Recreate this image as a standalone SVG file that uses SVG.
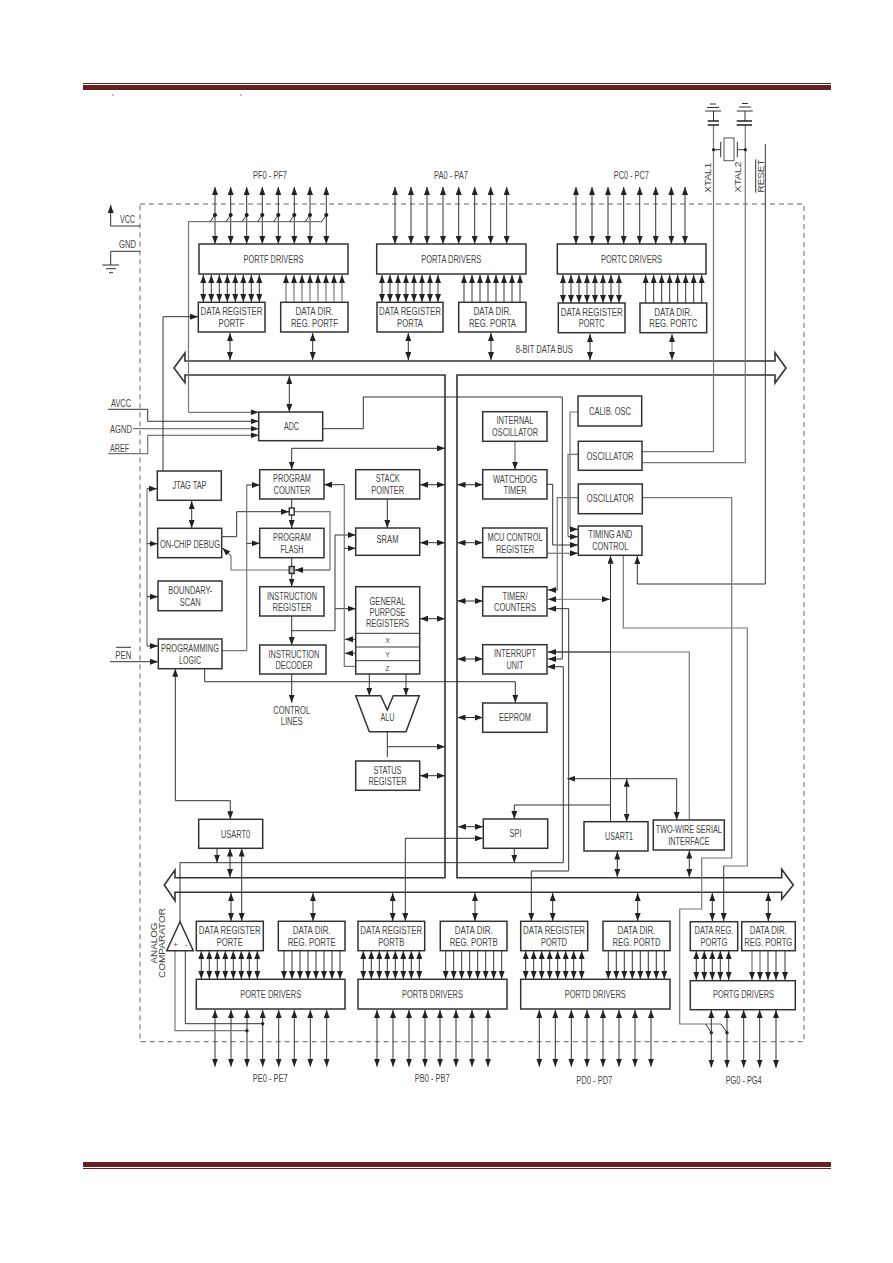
<svg xmlns="http://www.w3.org/2000/svg" width="893" height="1263" viewBox="0 0 893 1263">
<style>
text{font-family:"Liberation Sans",Arial,sans-serif;font-size:10px;fill:#444;text-anchor:middle}
.rot{font-size:8.5px}
.box{fill:#fff;stroke:#333;stroke-width:1.5}
.c{fill:none;stroke:#333;stroke-width:1}
.g{fill:none;stroke:#777;stroke-width:1.2}
.a{fill:none;stroke:#333;stroke-width:1;marker-end:url(#ah)}
.ag{fill:none;stroke:#777;stroke-width:1.2;marker-end:url(#ah)}
.b{fill:none;stroke:#333;stroke-width:1;marker-start:url(#ah);marker-end:url(#ah)}
.bg{fill:none;stroke:#777;stroke-width:1;marker-start:url(#ah);marker-end:url(#ah)}
.rule{fill:#66211f;stroke:none}
.dot{fill:#222;stroke:none}
</style>
<defs>
<marker id="ah" markerUnits="userSpaceOnUse" markerWidth="8" markerHeight="6" refX="8" refY="3" orient="auto-start-reverse"><path d="M0,0 L8,3 L0,6 z" fill="#222"/></marker>
</defs>
<rect width="893" height="1263" fill="#fff"/>
<g id="page-rules">
<rect class="rule" x="83" y="83" width="748" height="1"/>
<rect class="rule" x="83" y="85" width="748" height="5"/>
<rect class="rule" x="83" y="1162" width="748" height="5"/>
<rect class="rule" x="83" y="1168" width="748" height="1"/>
<path d="M112 95H114M240 95H242" stroke="#888" fill="none"/>
</g>
<path id="chip-border" d="M140 204H804V1041.7H140Z" fill="none" stroke="#666" stroke-width="1" stroke-dasharray="5 4"/>
<path id="data-bus" d="M185 361H775V352.7L786 368L775 383V375H457V877.7H781.7V869.3L793.3 885L781.7 899.3V892.3H175V900.7L164.3 885L175 870V877.7H445V375H185V382.7L174 368L185 353Z" fill="none" stroke="#333" stroke-width="1.6"/>
<g id="connectors">
<path class="b" d="M215 187V244"/><path class="b" d="M230.7 187V244"/><path class="b" d="M246.7 187V244"/><path class="b" d="M262.3 187V244"/><path class="b" d="M278.3 187V244"/><path class="b" d="M294.3 187V244"/><path class="b" d="M310 187V244"/><path class="b" d="M326.3 187V244"/>
<path class="b" d="M395 187V244"/><path class="b" d="M411 187V244"/><path class="b" d="M427 187V244"/><path class="b" d="M443 187V244"/><path class="b" d="M458.7 187V244"/><path class="b" d="M474.7 187V244"/><path class="b" d="M490.7 187V244"/><path class="b" d="M506.7 187V244"/>
<path class="b" d="M576 187V244"/><path class="b" d="M592 187V244"/><path class="b" d="M608 187V244"/><path class="b" d="M623.7 187V244"/><path class="b" d="M639.7 187V244"/><path class="b" d="M655.7 187V244"/><path class="b" d="M671.3 187V244"/><path class="b" d="M685 187V244"/>
<path class="g" d="M188.5 412V221.7H321.7"/>
<path class="c" d="M210 222L215 215M225.7 222L230.7 215M241.7 222L246.7 215M257.3 222L262.3 215M273.3 222L278.3 215M289.3 222L294.3 215M305 222L310 215M321.3 222L326.3 215"/>
<path class="dot" d="M215 213a2 2 0 1 0 .01 0zM230.7 213a2 2 0 1 0 .01 0zM246.7 213a2 2 0 1 0 .01 0zM262.3 213a2 2 0 1 0 .01 0zM278.3 213a2 2 0 1 0 .01 0zM294.3 213a2 2 0 1 0 .01 0zM310 213a2 2 0 1 0 .01 0zM326.3 213a2 2 0 1 0 .01 0z"/>
<path class="b" d="M203.3 275V302"/><path class="b" d="M211.3 275V302"/><path class="b" d="M219.3 275V302"/><path class="b" d="M227.3 275V302"/><path class="b" d="M235.3 275V302"/><path class="b" d="M243.3 275V302"/><path class="b" d="M251.3 275V302"/><path class="b" d="M259.3 275V302"/>
<path class="ag" d="M286 302V275"/><path class="ag" d="M294 302V275"/><path class="ag" d="M302 302V275"/><path class="ag" d="M310 302V275"/><path class="ag" d="M318 302V275"/><path class="ag" d="M326 302V275"/><path class="ag" d="M334 302V275"/><path class="ag" d="M342 302V275"/>
<path class="b" d="M382 275V302"/><path class="b" d="M390 275V302"/><path class="b" d="M398 275V302"/><path class="b" d="M406 275V302"/><path class="b" d="M414 275V302"/><path class="b" d="M422 275V302"/><path class="b" d="M430 275V302"/><path class="b" d="M438 275V302"/>
<path class="a" d="M464 302V275"/><path class="a" d="M472 302V275"/><path class="a" d="M480 302V275"/><path class="a" d="M488 302V275"/><path class="a" d="M496 302V275"/><path class="a" d="M504 302V275"/><path class="a" d="M512 302V275"/><path class="a" d="M520 302V275"/>
<path class="b" d="M563 275V303"/><path class="b" d="M571 275V303"/><path class="b" d="M579 275V303"/><path class="b" d="M587 275V303"/><path class="b" d="M595 275V303"/><path class="b" d="M603 275V303"/><path class="b" d="M611 275V303"/><path class="b" d="M619 275V303"/>
<path class="a" d="M645.7 303V275"/><path class="a" d="M653.7 303V275"/><path class="a" d="M661.7 303V275"/><path class="a" d="M669.7 303V275"/><path class="a" d="M677.7 303V275"/><path class="a" d="M685.7 303V275"/><path class="a" d="M693.7 303V275"/><path class="a" d="M701.7 303V275"/>
<path class="b" d="M230 333V360"/><path class="b" d="M312.7 333V360"/><path class="b" d="M408.3 333V360"/><path class="b" d="M491 333V360"/><path class="b" d="M590 334V360"/><path class="bg" d="M672 334V360"/>
<path class="b" d="M289.3 376V412"/>
<path class="a" d="M140 226H110.7V205"/>
<path class="c" d="M140 251.3H110.7V265M102.3 265H119M106 268.7H116M109 272.7H113"/>
<path class="g" d="M713.5 125V451.7H642"/>
<path class="g" d="M745.3 125V462.7H642"/>
<path class="c" d="M705 111H721M707 107.5H719M710 104H716M713.5 111V121M736.7 111H752.7M739 107H751M742 103.5H748M745 111V121"/>
<path d="M707.7 121H719M707.7 125H719M736.7 121H752M736.7 125H752" fill="none" stroke="#222" stroke-width="1.6"/>
<path class="c" d="M713.5 149.7H720.7M720.7 141.7V157.3M737.3 141.7V157.3M737.3 149.7H745.3"/>
<rect x="724" y="138" width="10" height="22.7" fill="#fff" stroke="#555"/>
<circle class="dot" cx="713.5" cy="149.7" r="1.6"/><circle class="dot" cx="745.3" cy="149.7" r="1.6"/>
<path class="a" d="M765.3 144V584H637.3V556"/>
<path class="a" d="M108 409.3H147.7V421.3H258.5"/>
<path class="ag" d="M133 428.7H258.5"/>
<path class="ag" d="M108 453.7H147.7V435.3H258.5"/>
<path class="ag" d="M188.5 412.3H258.5"/>
<path class="a" d="M322.7 428.7H363.3V397H562.3V659H548"/>
<path class="b" d="M445 448.3H291.7V469.5"/>
<path class="a" d="M163 471V316.7H198"/>
<path class="g" d="M147 488.7V646"/>
<path class="a" d="M147 488.7H157"/><path class="a" d="M147 543.7H157.5"/><path class="a" d="M147 596.7H158"/><path class="a" d="M147 646H158"/>
<path class="a" d="M110 661.7H158"/>
<path class="b" d="M191.7 501V528"/>
<path class="c" d="M291.7 499V508"/>
<path class="a" d="M291.7 515V528"/>
<path class="c" d="M291.7 558V566"/>
<path class="a" d="M291.7 574V586.5"/>
<path class="a" d="M221.7 536.7H236.7V511.7H289"/>
<path class="g" d="M294.5 511.7H330V570"/>
<path class="a" d="M330 570H295"/>
<path class="ag" d="M289 570H231V556L222.5 548"/>
<path class="g" d="M222 650.7H246.7V485"/>
<path class="a" d="M246.7 485H259.7"/>
<path class="a" d="M246.7 543.3H259.7"/>
<path class="a" d="M291.7 616V645"/>
<path class="c" d="M291.7 630.7H335V535"/>
<path class="a" d="M335 535H355.7"/>
<path class="a" d="M335 608.7H355.7"/>
<path class="g" d="M355.7 666.3H344.3V484.7"/>
<path class="a" d="M344.3 484.7H324"/>
<path class="a" d="M344.3 548.3H355.7"/>
<path class="a" d="M355.7 639.3H345"/>
<path class="a" d="M355.7 653.3H345"/>
<path class="a" d="M387.3 499V528"/>
<path class="b" d="M420 484.7H445"/><path class="b" d="M420 542.7H445"/><path class="b" d="M420 618.7H445"/>
<path class="a" d="M291.7 674V702.7"/>
<path class="a" d="M369.3 674V695.7"/><path class="a" d="M406 674V695.7"/>
<path class="a" d="M204.7 668.7V681.7H515.3V702.7"/>
<path class="b" d="M175.3 668.7V800.7H230.3V819.3"/>
<path class="c" d="M387.3 731.7V757"/>
<path class="a" d="M387.3 746.7H445"/>
<path class="b" d="M420 775.7H445"/>
<path class="b" d="M457.5 484.7H482.7"/><path class="b" d="M457.5 542.7H482.7"/><path class="b" d="M457.5 601H482.7"/><path class="b" d="M457.5 659H482.7"/><path class="b" d="M457.5 717.5H482.7"/><path class="b" d="M458 826.7H483"/>
<path class="ag" d="M515 441.3V469.7"/>
<path class="g" d="M578 412H570V529.3"/>
<path class="a" d="M570 529.3H578"/>
<path class="g" d="M578 454.3H568V536.7"/>
<path class="a" d="M568 536.7H578"/>
<path class="a" d="M547 484.3H552.7V545H578"/>
<path class="ag" d="M547 553.3H578"/>
<path class="g" d="M578 497.7H557.3V590"/>
<path class="a" d="M557.3 590H548"/>
<path class="g" d="M642 497.7H731.7V858H701.7V909H679.7V1024H721"/>
<path class="c" d="M705.7 1024L711.3 1032.7M721 1024L727 1032.7"/>
<circle class="dot" cx="711.3" cy="1032.7" r="1.7"/><circle class="dot" cx="727" cy="1032.7" r="1.7"/>
<path class="bg" d="M548 599.3H610"/>
<path class="b" d="M531.3 921V871H568.7V608.7H548"/>
<path class="g" d="M689.3 820V652H548"/>
<path class="a" d="M610.7 652H548"/>
<path class="a" d="M180 921.7V862.7H563.3V666.7H547"/>
<path class="a" d="M610.5 821.7V555.7"/>
<path class="a" d="M610.5 805H514.3V819"/>
<path class="b" d="M626.7 821.7V778.7"/>
<path class="a" d="M676.7 778.7H567.3"/>
<path class="a" d="M676.7 778.7V820"/>
<path class="g" d="M623.3 555.3V628H747.3V866H723.7"/>
<path class="a" d="M723.7 866V921"/>
<path class="a" d="M217 848.5V862.7"/>
<path class="b" d="M230 848.5V877"/>
<path class="b" d="M241.7 848.5V921"/>
<path class="a" d="M514.3 848.5V862.7"/>
<path class="b" d="M405.3 921V838.3H483"/>
<path class="b" d="M617.3 851.5V877"/>
<path class="b" d="M689.3 850.5V877"/>
<path class="b" d="M231 893V921"/><path class="b" d="M313 893V921"/><path class="b" d="M392.7 893V921"/><path class="b" d="M475 893V921"/><path class="b" d="M552.7 893V921"/><path class="b" d="M637.7 893V921"/><path class="b" d="M712.3 893V921"/><path class="b" d="M768.3 893V921"/>
<path class="b" d="M201.3 951V979"/><path class="b" d="M209.3 951V979"/><path class="b" d="M217.3 951V979"/><path class="b" d="M225.3 951V979"/><path class="b" d="M233.3 951V979"/><path class="b" d="M241.3 951V979"/><path class="b" d="M249.3 951V979"/><path class="b" d="M257.3 951V979"/>
<path class="a" d="M284 951V979"/><path class="a" d="M292 951V979"/><path class="a" d="M300 951V979"/><path class="a" d="M308 951V979"/><path class="a" d="M316 951V979"/><path class="a" d="M324 951V979"/><path class="a" d="M332 951V979"/><path class="a" d="M340 951V979"/>
<path class="b" d="M363.3 951V979"/><path class="b" d="M371.3 951V979"/><path class="b" d="M379.3 951V979"/><path class="b" d="M387.3 951V979"/><path class="b" d="M395.3 951V979"/><path class="b" d="M403.3 951V979"/><path class="b" d="M411.3 951V979"/><path class="b" d="M419.3 951V979"/>
<path class="a" d="M445.7 951V979"/><path class="a" d="M453.7 951V979"/><path class="a" d="M461.7 951V979"/><path class="a" d="M469.7 951V979"/><path class="a" d="M477.7 951V979"/><path class="a" d="M485.7 951V979"/><path class="a" d="M493.7 951V979"/><path class="a" d="M501.7 951V979"/>
<path class="b" d="M525.7 951V979"/><path class="b" d="M533.7 951V979"/><path class="b" d="M541.7 951V979"/><path class="b" d="M549.7 951V979"/><path class="b" d="M557.7 951V979"/><path class="b" d="M565.7 951V979"/><path class="b" d="M573.7 951V979"/><path class="b" d="M581.7 951V979"/>
<path class="a" d="M608.3 951V979"/><path class="a" d="M616.3 951V979"/><path class="a" d="M624.3 951V979"/><path class="a" d="M632.3 951V979"/><path class="a" d="M640.3 951V979"/><path class="a" d="M648.3 951V979"/><path class="a" d="M656.3 951V979"/><path class="a" d="M664.3 951V979"/>
<path class="b" d="M696.3 951V980"/><path class="b" d="M704.3 951V980"/><path class="b" d="M712.3 951V980"/><path class="b" d="M720.3 951V980"/><path class="b" d="M728.7 951V980"/>
<path class="ag" d="M752 951V980"/><path class="ag" d="M760 951V980"/><path class="a" d="M768 951V980"/><path class="a" d="M776 951V980"/><path class="a" d="M785 951V980"/>
<path class="b" d="M215 1010V1066.7"/><path class="b" d="M231 1010V1066.7"/><path class="b" d="M247 1010V1066.7"/><path class="b" d="M262.7 1010V1066.7"/><path class="b" d="M278.7 1010V1066.7"/><path class="b" d="M294.3 1010V1066.7"/><path class="b" d="M310.3 1010V1066.7"/><path class="b" d="M326.7 1010V1066.7"/>
<path class="b" d="M377 1010V1066.7"/><path class="b" d="M393 1010V1066.7"/><path class="b" d="M409 1010V1066.7"/><path class="b" d="M425 1010V1066.7"/><path class="b" d="M440 1010V1066.7"/><path class="b" d="M456 1010V1066.7"/><path class="b" d="M472 1010V1066.7"/><path class="b" d="M488 1010V1066.7"/>
<path class="b" d="M539.3 1010V1066.7"/><path class="b" d="M555.3 1010V1066.7"/><path class="b" d="M571.3 1010V1066.7"/><path class="b" d="M587 1010V1066.7"/><path class="b" d="M603 1010V1066.7"/><path class="b" d="M619 1010V1066.7"/><path class="b" d="M635 1010V1066.7"/><path class="b" d="M651 1010V1066.7"/>
<path class="b" d="M711.3 1010V1067.5"/><path class="b" d="M727 1010V1067.5"/><path class="b" d="M743.7 1010V1067.5"/><path class="b" d="M759.7 1010V1067.5"/><path class="b" d="M776 1010V1068"/>
<path class="c" d="M185.3 951V1023.7H262.7"/>
<path class="g" d="M175 951V1030.7H247"/>
<circle class="dot" cx="262.7" cy="1023.7" r="1.7"/><circle class="dot" cx="247" cy="1030.7" r="1.7"/>
</g>
<g id="labels">
<text x="270" y="178.8" textLength="34" lengthAdjust="spacingAndGlyphs">PF0 - PF7</text>
<text x="451" y="178.8" textLength="34" lengthAdjust="spacingAndGlyphs">PA0 - PA7</text>
<text x="631.3" y="178.8" textLength="35" lengthAdjust="spacingAndGlyphs">PC0 - PC7</text>
<text x="270.3" y="1081.5" textLength="35" lengthAdjust="spacingAndGlyphs">PE0 - PE7</text>
<text x="432.3" y="1081.5" textLength="35" lengthAdjust="spacingAndGlyphs">PB0 - PB7</text>
<text x="594.3" y="1083.5" textLength="36" lengthAdjust="spacingAndGlyphs">PD0 - PD7</text>
<text x="743.7" y="1083.5" textLength="36" lengthAdjust="spacingAndGlyphs">PG0 - PG4</text>
<text x="127.5" y="222.5" textLength="15" lengthAdjust="spacingAndGlyphs">VCC</text>
<text x="127.5" y="247.5" textLength="17" lengthAdjust="spacingAndGlyphs">GND</text>
<text x="121" y="406.5" textLength="20" lengthAdjust="spacingAndGlyphs">AVCC</text>
<text x="121" y="432.5" textLength="22" lengthAdjust="spacingAndGlyphs">AGND</text>
<text x="119.5" y="451.5" textLength="19" lengthAdjust="spacingAndGlyphs">AREF</text>
<text x="123.3" y="658.5" textLength="16" lengthAdjust="spacingAndGlyphs">PEN</text>
<path class="c" d="M116 647.3H131"/>
<text x="544.3" y="352.8" textLength="57" lengthAdjust="spacingAndGlyphs">8-BIT DATA BUS</text>
<text x="291.7" y="713.5" textLength="37" lengthAdjust="spacingAndGlyphs">CONTROL</text>
<text x="291.7" y="725.2" textLength="22" lengthAdjust="spacingAndGlyphs">LINES</text>
<text class="rot" transform="translate(710.7 177.7) rotate(-90)" textLength="30" lengthAdjust="spacingAndGlyphs">XTAL1</text>
<text class="rot" transform="translate(741.3 177) rotate(-90)" textLength="31" lengthAdjust="spacingAndGlyphs">XTAL2</text>
<text class="rot" transform="translate(764.3 176) rotate(-90)" textLength="33" lengthAdjust="spacingAndGlyphs">RESET</text>
<path class="c" d="M755.7 159.3V192.7"/>
<text class="rot" transform="translate(156.7 943) rotate(-90)" textLength="41" lengthAdjust="spacingAndGlyphs">ANALOG</text>
<text class="rot" transform="translate(164.5 943) rotate(-90)" textLength="70" lengthAdjust="spacingAndGlyphs">COMPARATOR</text>
</g>
<g id="portf-drivers"><rect class="box" x="199" y="244" width="149" height="30"/><text x="273.5" y="262.5" textLength="60" lengthAdjust="spacingAndGlyphs">PORTF DRIVERS</text></g>
<g id="porta-drivers"><rect class="box" x="376.7" y="244" width="149.3" height="30"/><text x="451.3" y="262.5" textLength="60" lengthAdjust="spacingAndGlyphs">PORTA DRIVERS</text></g>
<g id="portc-drivers"><rect class="box" x="557.3" y="244" width="148.7" height="30"/><text x="631.5" y="262.5" textLength="61" lengthAdjust="spacingAndGlyphs">PORTC DRIVERS</text></g>
<g id="data-register-portf"><rect class="box" x="198.3" y="302.3" width="66.7" height="29.7"/><text x="231.5" y="315" textLength="62" lengthAdjust="spacingAndGlyphs">DATA REGISTER</text><text x="231.5" y="326.5" textLength="26" lengthAdjust="spacingAndGlyphs">PORTF</text></g>
<g id="data-dir-portf"><rect class="box" x="280.7" y="302.3" width="67.3" height="29.7"/><text x="314.5" y="315" textLength="38" lengthAdjust="spacingAndGlyphs">DATA DIR.</text><text x="314.5" y="326.5" textLength="47" lengthAdjust="spacingAndGlyphs">REG. PORTF</text></g>
<g id="data-register-porta"><rect class="box" x="377" y="302.3" width="66" height="29.7"/><text x="410" y="315" textLength="62" lengthAdjust="spacingAndGlyphs">DATA REGISTER</text><text x="410" y="326.5" textLength="26" lengthAdjust="spacingAndGlyphs">PORTA</text></g>
<g id="data-dir-porta"><rect class="box" x="458.7" y="302.3" width="67.3" height="29.7"/><text x="492.5" y="315" textLength="38" lengthAdjust="spacingAndGlyphs">DATA DIR.</text><text x="492.5" y="326.5" textLength="47" lengthAdjust="spacingAndGlyphs">REG. PORTA</text></g>
<g id="data-register-portc"><rect class="box" x="558.3" y="303" width="66.7" height="29.7"/><text x="591.7" y="315.5" textLength="62" lengthAdjust="spacingAndGlyphs">DATA REGISTER</text><text x="591.7" y="327" textLength="26" lengthAdjust="spacingAndGlyphs">PORTC</text></g>
<g id="data-dir-portc"><rect class="box" x="640" y="303" width="66.7" height="29.7"/><text x="673.3" y="315.5" textLength="38" lengthAdjust="spacingAndGlyphs">DATA DIR.</text><text x="673.3" y="327" textLength="48" lengthAdjust="spacingAndGlyphs">REG. PORTC</text></g>
<g id="adc"><rect class="box" x="258.7" y="412" width="64" height="28.7"/><text x="291.5" y="429.5" textLength="15" lengthAdjust="spacingAndGlyphs">ADC</text></g>
<g id="jtag-tap"><rect class="box" x="157.3" y="471" width="64" height="29.3"/><text x="189.5" y="488.5" textLength="34" lengthAdjust="spacingAndGlyphs">JTAG TAP</text></g>
<g id="on-chip-debug"><rect class="box" x="157.7" y="528.3" width="64" height="29.4"/><text x="190" y="548" textLength="60" lengthAdjust="spacingAndGlyphs">ON-CHIP DEBUG</text></g>
<g id="boundary-scan"><rect class="box" x="158" y="581" width="64" height="29.7"/><text x="190.3" y="593.5" textLength="44" lengthAdjust="spacingAndGlyphs">BOUNDARY-</text><text x="190.3" y="605.5" textLength="21" lengthAdjust="spacingAndGlyphs">SCAN</text></g>
<g id="programming-logic"><rect class="box" x="158.3" y="639" width="63.7" height="29.7"/><text x="190" y="652" textLength="58" lengthAdjust="spacingAndGlyphs">PROGRAMMING</text><text x="190" y="663.5" textLength="22" lengthAdjust="spacingAndGlyphs">LOGIC</text></g>
<g id="program-counter"><rect class="box" x="259.7" y="469.7" width="64.3" height="29.3"/><text x="292" y="482" textLength="38" lengthAdjust="spacingAndGlyphs">PROGRAM</text><text x="292" y="493.5" textLength="37" lengthAdjust="spacingAndGlyphs">COUNTER</text></g>
<g id="program-flash"><rect class="box" x="259.7" y="528.3" width="64.3" height="29.4"/><text x="292" y="541" textLength="38" lengthAdjust="spacingAndGlyphs">PROGRAM</text><text x="292" y="552.5" textLength="23" lengthAdjust="spacingAndGlyphs">FLASH</text></g>
<g id="instruction-register"><rect class="box" x="259.7" y="586.7" width="64.3" height="29.3"/><text x="292" y="599.5" textLength="50" lengthAdjust="spacingAndGlyphs">INSTRUCTION</text><text x="292" y="610.5" textLength="39" lengthAdjust="spacingAndGlyphs">REGISTER</text></g>
<g id="instruction-decoder"><rect class="box" x="259.7" y="645" width="66.3" height="29" stroke-width="2"/><text x="294" y="657.5" textLength="51" lengthAdjust="spacingAndGlyphs">INSTRUCTION</text><text x="294" y="668.5" textLength="37" lengthAdjust="spacingAndGlyphs">DECODER</text></g>
<g id="stack-pointer"><rect class="box" x="355.7" y="469.7" width="64" height="29.3"/><text x="387.7" y="482" textLength="24" lengthAdjust="spacingAndGlyphs">STACK</text><text x="387.7" y="493.5" textLength="33" lengthAdjust="spacingAndGlyphs">POINTER</text></g>
<g id="sram"><rect class="box" x="355.7" y="528" width="64" height="27.3"/><text x="387.5" y="542.5" textLength="22" lengthAdjust="spacingAndGlyphs">SRAM</text></g>
<g id="general-purpose-registers"><rect class="box" x="355.7" y="586.7" width="64" height="87.3"/><path class="c" d="M355.7 633.3H419.7M355.7 647H419.7M355.7 660.7H419.7"/><text x="387.5" y="604.8" textLength="36" lengthAdjust="spacingAndGlyphs">GENERAL</text><text x="387.5" y="616.2" textLength="36" lengthAdjust="spacingAndGlyphs">PURPOSE</text><text x="387.5" y="626.8" textLength="43" lengthAdjust="spacingAndGlyphs">REGISTERS</text><text x="387.5" y="643" style="font-size:7px">X</text><text x="387.5" y="656.5" style="font-size:7px">Y</text><text x="387.5" y="670.5" style="font-size:7px">Z</text></g>
<g id="alu"><path class="box" d="M355.7 695.7H380.7L387.3 710L393.3 695.7H419.3L406 731.7H369.3Z"/><text x="387.5" y="721" textLength="14" lengthAdjust="spacingAndGlyphs">ALU</text></g>
<g id="status-register"><rect class="box" x="355.7" y="761" width="64" height="29.3"/><text x="387.5" y="773.5" textLength="28" lengthAdjust="spacingAndGlyphs">STATUS</text><text x="387.5" y="785" textLength="38" lengthAdjust="spacingAndGlyphs">REGISTER</text></g>
<g id="usart0"><rect class="box" x="198.7" y="819.3" width="64" height="29"/><text x="235.5" y="838" textLength="29" lengthAdjust="spacingAndGlyphs">USART0</text></g>
<g id="internal-oscillator"><rect class="box" x="482.7" y="411.7" width="64.3" height="29.6"/><text x="515" y="424" textLength="37" lengthAdjust="spacingAndGlyphs">INTERNAL</text><text x="515" y="435.5" textLength="46" lengthAdjust="spacingAndGlyphs">OSCILLATOR</text></g>
<g id="watchdog-timer"><rect class="box" x="482.7" y="469.7" width="64.3" height="29.3"/><text x="515" y="482.5" textLength="44" lengthAdjust="spacingAndGlyphs">WATCHDOG</text><text x="515" y="494" textLength="23" lengthAdjust="spacingAndGlyphs">TIMER</text></g>
<g id="mcu-control-register"><rect class="box" x="482.7" y="528" width="64.3" height="29.7"/><text x="515" y="540.5" textLength="55" lengthAdjust="spacingAndGlyphs">MCU CONTROL</text><text x="515" y="552.5" textLength="38" lengthAdjust="spacingAndGlyphs">REGISTER</text></g>
<g id="timer-counters"><rect class="box" x="482.7" y="586.7" width="64.3" height="29.3"/><text x="515" y="599.5" textLength="25" lengthAdjust="spacingAndGlyphs">TIMER/</text><text x="515" y="610.5" textLength="42" lengthAdjust="spacingAndGlyphs">COUNTERS</text></g>
<g id="interrupt-unit"><rect class="box" x="482.7" y="644.7" width="64.3" height="29.3"/><text x="515" y="657" textLength="42" lengthAdjust="spacingAndGlyphs">INTERRUPT</text><text x="515" y="668.5" textLength="17" lengthAdjust="spacingAndGlyphs">UNIT</text></g>
<g id="eeprom"><rect class="box" x="482.7" y="703" width="64.3" height="29.3"/><text x="515" y="721" textLength="32" lengthAdjust="spacingAndGlyphs">EEPROM</text></g>
<g id="calib-osc"><rect class="box" x="578" y="396" width="63.7" height="30"/><text x="610" y="414.5" textLength="42" lengthAdjust="spacingAndGlyphs">CALIB. OSC</text></g>
<g id="oscillator-1"><rect class="box" x="578.3" y="441.3" width="63.7" height="29"/><text x="610" y="459.5" textLength="47" lengthAdjust="spacingAndGlyphs">OSCILLATOR</text></g>
<g id="oscillator-2"><rect class="box" x="578.3" y="484" width="64" height="29.7"/><text x="610.3" y="502" textLength="47" lengthAdjust="spacingAndGlyphs">OSCILLATOR</text></g>
<g id="timing-and-control"><rect class="box" x="578.3" y="526" width="63.7" height="29.3" stroke-width="2"/><text x="610.3" y="538" textLength="44" lengthAdjust="spacingAndGlyphs">TIMING AND</text><text x="610.3" y="549.5" textLength="36" lengthAdjust="spacingAndGlyphs">CONTROL</text></g>
<g id="spi"><rect class="box" x="483.3" y="819" width="64.4" height="29.3"/><text x="515.5" y="837" textLength="12" lengthAdjust="spacingAndGlyphs">SPI</text></g>
<g id="usart1"><rect class="box" x="584" y="821.7" width="64" height="29.3" stroke-width="2"/><text x="619" y="840" textLength="28" lengthAdjust="spacingAndGlyphs">USART1</text></g>
<g id="two-wire-serial-interface"><rect class="box" x="653.3" y="820" width="71" height="30"/><text x="688.8" y="833" textLength="66" lengthAdjust="spacingAndGlyphs">TWO-WIRE SERIAL</text><text x="688.8" y="845" textLength="41" lengthAdjust="spacingAndGlyphs">INTERFACE</text></g>
<g id="comparator"><path class="box" d="M180 921.7L193.3 950.7H166.7Z"/><text x="175.7" y="947" style="font-size:8px">+</text><text x="186" y="947" style="font-size:8px">-</text></g>
<g id="data-register-porte"><rect class="box" x="196.3" y="921.3" width="67" height="29.4"/><text x="229.8" y="934" textLength="62" lengthAdjust="spacingAndGlyphs">DATA REGISTER</text><text x="229.8" y="945.5" textLength="26" lengthAdjust="spacingAndGlyphs">PORTE</text></g>
<g id="data-dir-porte"><rect class="box" x="278.3" y="921.3" width="66.7" height="29.4"/><text x="311.7" y="934" textLength="38" lengthAdjust="spacingAndGlyphs">DATA DIR.</text><text x="311.7" y="945.5" textLength="48" lengthAdjust="spacingAndGlyphs">REG. PORTE</text></g>
<g id="data-register-portb"><rect class="box" x="358" y="921.3" width="66.7" height="29.4"/><text x="391.3" y="934" textLength="62" lengthAdjust="spacingAndGlyphs">DATA REGISTER</text><text x="391.3" y="945.5" textLength="26" lengthAdjust="spacingAndGlyphs">PORTB</text></g>
<g id="data-dir-portb"><rect class="box" x="440.3" y="921.3" width="66.7" height="29.4"/><text x="473.7" y="934" textLength="38" lengthAdjust="spacingAndGlyphs">DATA DIR.</text><text x="473.7" y="945.5" textLength="48" lengthAdjust="spacingAndGlyphs">REG. PORTB</text></g>
<g id="data-register-portd"><rect class="box" x="520.7" y="921.3" width="67" height="29.4"/><text x="554" y="934" textLength="62" lengthAdjust="spacingAndGlyphs">DATA REGISTER</text><text x="554" y="945.5" textLength="26" lengthAdjust="spacingAndGlyphs">PORTD</text></g>
<g id="data-dir-portd"><rect class="box" x="603" y="921.3" width="67" height="29.4"/><text x="636.5" y="934" textLength="38" lengthAdjust="spacingAndGlyphs">DATA DIR.</text><text x="636.5" y="945.5" textLength="48" lengthAdjust="spacingAndGlyphs">REG. PORTD</text></g>
<g id="data-reg-portg"><rect class="box" x="690.3" y="921.7" width="47.4" height="29"/><text x="714" y="934" textLength="39" lengthAdjust="spacingAndGlyphs">DATA REG.</text><text x="714" y="945.5" textLength="27" lengthAdjust="spacingAndGlyphs">PORTG</text></g>
<g id="data-dir-portg"><rect class="box" x="741.7" y="921.7" width="53.6" height="29"/><text x="768.3" y="934" textLength="37" lengthAdjust="spacingAndGlyphs">DATA DIR.</text><text x="768.3" y="945.5" textLength="48" lengthAdjust="spacingAndGlyphs">REG. PORTG</text></g>
<g id="porte-drivers"><rect class="box" x="196.3" y="979.3" width="148.7" height="29.7"/><text x="270.7" y="998" textLength="61" lengthAdjust="spacingAndGlyphs">PORTE DRIVERS</text></g>
<g id="portb-drivers"><rect class="box" x="358" y="979.3" width="149" height="29.7"/><text x="432.5" y="997.5" textLength="61" lengthAdjust="spacingAndGlyphs">PORTB DRIVERS</text></g>
<g id="portd-drivers"><rect class="box" x="520.7" y="979.3" width="149.3" height="29.7"/><text x="595.3" y="997.5" textLength="61" lengthAdjust="spacingAndGlyphs">PORTD DRIVERS</text></g>
<g id="portg-drivers"><rect class="box" x="690.3" y="980.7" width="105" height="29"/><text x="743.5" y="998" textLength="61" lengthAdjust="spacingAndGlyphs">PORTG DRIVERS</text></g>
<g id="mux"><rect x="289.2" y="508" width="5" height="7" fill="#fff" stroke="#222" stroke-width="1.3"/><rect x="289.2" y="566.5" width="5" height="7" fill="#bbb" stroke="#222" stroke-width="1.3"/></g>
</svg>
